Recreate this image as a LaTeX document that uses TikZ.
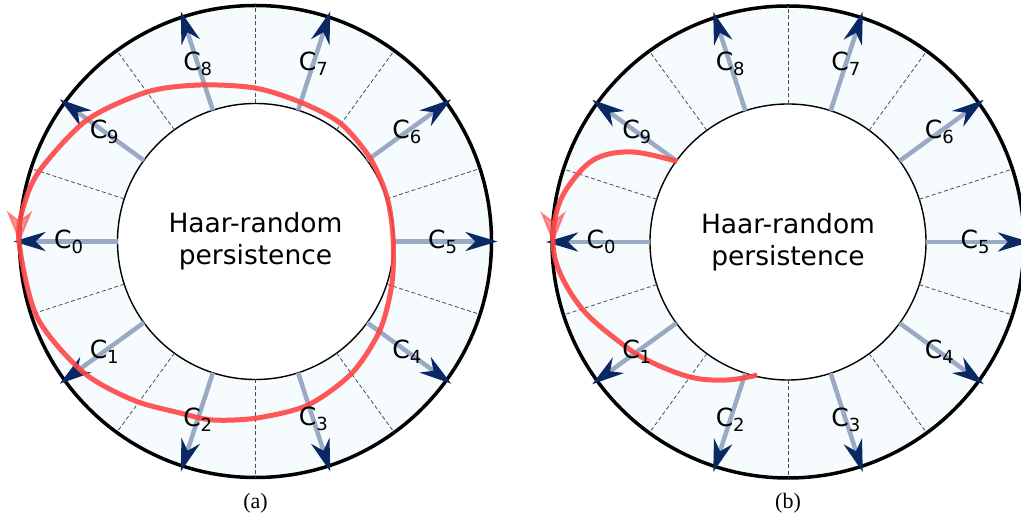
\documentclass[tikz,border=0pt]{standalone}
\usepackage{fontspec}
\setmainfont{DejaVu Sans}
\newfontfamily\capfont{Liberation Serif}
\usetikzlibrary{arrows.meta}
\definecolor{ringfill}{RGB}{246,251,254}
\definecolor{armgray}{RGB}{155,170,196}
\definecolor{navyhead}{RGB}{10,40,100}
\definecolor{trajred}{RGB}{255,70,70}
\tikzset{
  outerring/.style={circle, draw=black, line width=3.5pt, fill=ringfill, minimum size=472pt, inner sep=0pt, outer sep=0pt},
  innerdisk/.style={circle, draw=black, line width=1.4pt, fill=white, minimum size=276pt, inner sep=0pt, outer sep=0pt, align=center, font=\fontsize{26.5}{32}\selectfont},
  sector/.style={draw=black!70, line width=0.8pt, dash pattern=on 4pt off 2.5pt},
  arm/.style={draw=armgray, line width=4.5pt, -{Stealth[length=32pt,width=19pt,inset=10pt,color=navyhead]}},
  clabel/.style={font=\fontsize{25}{25}\selectfont, inner sep=0pt, text=black},
  traj/.style={draw=trajred, line width=5pt, opacity=0.9},
  trajtip/.style={draw=trajred, line width=2pt, opacity=0.55, -{Stealth[length=32pt,width=26pt,inset=10pt,fill=trajred]}},
  captext/.style={font=\capfont\fontsize{22}{22}\selectfont, inner sep=0pt}
}
\newcommand{\Clab}[1]{C\raisebox{-5pt}{\fontsize{18}{18}\selectfont #1}}
\begin{document}
\begin{tikzpicture}[x=1pt,y=1pt]
\useasboundingbox (0,0) rectangle (1021,517);
\foreach \pan/\cx/\cy in {a/255.5/275.5, b/788/275} {
  \begin{scope}[shift={(\cx,\cy)}]
    \node[outerring] (\pan-out) at (0,0) {};
    \node[innerdisk] (\pan-in) at (0,0) {Haar-random\\persistence};
    \foreach \k in {0,...,9} {
      \pgfmathsetmacro{\ang}{18+36*\k}
      \draw[sector] (\pan-in.\ang) -- (\pan-out.\ang);
    }
    \foreach \k in {0,...,9} {
      \pgfmathsetmacro{\ang}{180+36*\k}
      \coordinate (\pan-tip\k) at (\ang:242);
      \draw[arm] (\pan-in.\ang) -- (\pan-tip\k);
    }
  \end{scope}
}
% trajectory (a)
\begin{scope}[shift={(255.5,275.5)}]
  \draw[traj] plot[smooth cycle, tension=0.5] coordinates {
    (-236.5,-0.5) (-231.5,36.5) (-215.5,71.5) (-168.5,121.5) (-108.5,149.5)
    (-55.5,156.5) (-0.5,153.5) (44.5,139.5) (84.5,118.5) (114.5,83.5)
    (131.5,44.5) (137.5,4.5) (136.5,-41.5) (124.5,-88.5) (96.5,-131.5)
    (52.5,-163.5) (1.5,-176.5) (-42.5,-178.5) (-75.5,-171.5) (-122.5,-158.5)
    (-172.5,-130.5) (-218.5,-75.5)};
  \coordinate (a-rs) at (-236,2);
  \coordinate (a-re) at (-236,-1);
  \draw[trajtip] (a-rs) -- (a-re);
\end{scope}
% trajectory (b)
\begin{scope}[shift={(788,275)}]
  \coordinate (b-start) at (144:137);
  \coordinate (b-end) at (257:136.6);
  \draw[traj] plot[smooth, tension=0.6] coordinates {
    (b-start) (-155,90) (-191,84) (-215,62) (-230,35) (-235,0) (-228,-31)
    (-205,-68) (-171,-98) (-141,-118) (-98,-135) (-61,-138) (b-end)};
  \coordinate (b-rs) at (-235,2);
  \coordinate (b-re) at (-235,-1);
  \draw[trajtip] (b-rs) -- (b-re);
\end{scope}
% labels
\foreach \pan/\cx/\cy in {a/255.5/275.5, b/788/275} {
  \begin{scope}[shift={(\cx,\cy)}]
    \foreach \k in {0,...,9} {
      \pgfmathsetmacro{\ang}{180+36*\k}
      \node[clabel] (\pan-lab\k) at (\ang:187) {\Clab{\k}};
    }
    \node[captext] (\pan-cap) at (0,-261.5) {(\pan)};
  \end{scope}
}
\end{tikzpicture}
\end{document}
